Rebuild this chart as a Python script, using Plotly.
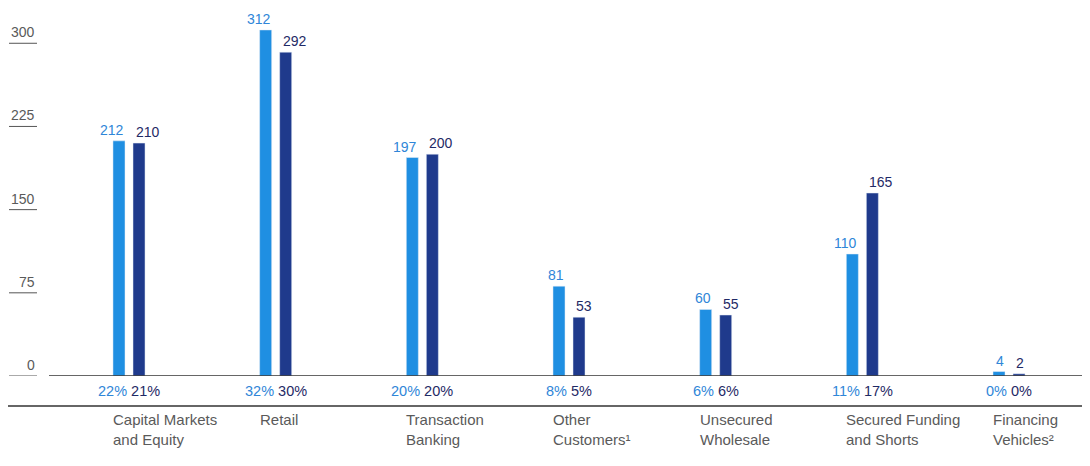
import plotly.graph_objects as go

categories = ["Capital Markets<br>and Equity", "Retail", "Transaction<br>Banking",
              "Other<br>Customers¹", "Unsecured<br>Wholesale",
              "Secured Funding<br>and Shorts", "Financing<br>Vehicles²"]
series_a = [212, 312, 197, 81, 60, 110, 4]
series_b = [210, 292, 200, 53, 55, 165, 2]
pct_a = ["22%", "32%", "20%", "8%", "6%", "11%", "0%"]
pct_b = ["21%", "30%", "20%", "5%", "6%", "17%", "0%"]
y_ticks = [0, 75, 150, 225, 300]

LIGHT = "#1f8fe2"
DARK = "#1f3a8c"
LIGHT_TXT = "#2f86d8"
DARK_TXT = "#1f2a66"
GRAY = "#5a5a5a"
FONT = "Liberation Sans, Arial, sans-serif"

# the page has an 8px body margin; size the figure so it fills the window
OFF = 8
W, H = 1090 - OFF, 466 - OFF
ML, MR, MT, MB = 49 - OFF, 0, 10 - OFF, 466 - 376
pw = W - ML - MR
ph = H - MT - MB

idx = list(range(len(categories)))

fig = go.Figure()
fig.add_trace(go.Bar(x=idx, y=series_a, name="A", marker_color=LIGHT,
                     cliponaxis=False, showlegend=False, hoverinfo="y"))
fig.add_trace(go.Bar(x=idx, y=series_b, name="B", marker_color=DARK,
                     cliponaxis=False, showlegend=False, hoverinfo="y"))

cat_px = 146.67
left_px = 129 - OFF
x0 = (ML - left_px) / cat_px
x1 = (W - MR - left_px) / cat_px

annotations = []
shapes = []
# y tick labels with underlines
for t in y_ticks:
    annotations.append(dict(x=(37 - OFF - ML) / pw, xref="paper", y=t, yref="y",
                            text=str(t), showarrow=False, xanchor="right",
                            yanchor="bottom", yshift=1,
                            font=dict(color=GRAY, size=14, family=FONT)))
    shapes.append(dict(type="line", xref="paper", yref="y",
                       x0=(9 - OFF - ML) / pw, x1=(37 - OFF - ML) / pw, y0=t, y1=t,
                       line=dict(color="#555555", width=1)))

for i, c in enumerate(categories):
    # value labels
    annotations.append(dict(x=i, xref="x", y=series_a[i], yref="y",
                            text=str(series_a[i]), showarrow=False,
                            xanchor="right", yanchor="bottom", xshift=-3, yshift=1,
                            font=dict(color=LIGHT_TXT, size=14, family=FONT)))
    annotations.append(dict(x=i, xref="x", y=series_b[i], yref="y",
                            text=str(series_b[i]), showarrow=False,
                            xanchor="left", yanchor="bottom", xshift=5, yshift=1,
                            font=dict(color=DARK_TXT, size=14, family=FONT)))
    # percentage row
    annotations.append(dict(x=i, xref="x", y=0, yref="paper",
                            text=f"<span style='color:{LIGHT_TXT}'>{pct_a[i]}</span> "
                                 f"<span style='color:{DARK_TXT}'>{pct_b[i]}</span>",
                            showarrow=False, xanchor="center", yanchor="middle",
                            yshift=-15, font=dict(size=14.5, family=FONT)))
    # category labels
    annotations.append(dict(x=i, xref="x", y=0, yref="paper", text=c,
                            showarrow=False, xanchor="left", yanchor="top",
                            xshift=-18, yshift=-33, align="left",
                            font=dict(color=GRAY, size=15, family=FONT)))

# baseline and lower rule
shapes.append(dict(type="line", xref="paper", yref="y", x0=0, x1=1, y0=0, y1=0,
                   line=dict(color="#333333", width=1.5)))
shapes.append(dict(type="line", xref="paper", yref="paper",
                   x0=(8 - OFF - ML) / pw, x1=1, y0=-30 / ph, y1=-30 / ph,
                   line=dict(color="#333333", width=1.5)))

fig.update_layout(
    width=W, height=H,
    margin=dict(l=ML, r=MR, t=MT, b=MB),
    paper_bgcolor="white", plot_bgcolor="white",
    barmode="group", bargap=0.727, bargroupgap=0.4,
    xaxis=dict(type="linear", range=[x0, x1], showticklabels=False,
               showgrid=False, zeroline=False, showline=False, ticks=""),
    yaxis=dict(range=[0, 330], showticklabels=False, showgrid=False,
               zeroline=False, showline=False, ticks=""),
    annotations=annotations, shapes=shapes,
    font=dict(family=FONT),
)

fig.write_html("out.html")
